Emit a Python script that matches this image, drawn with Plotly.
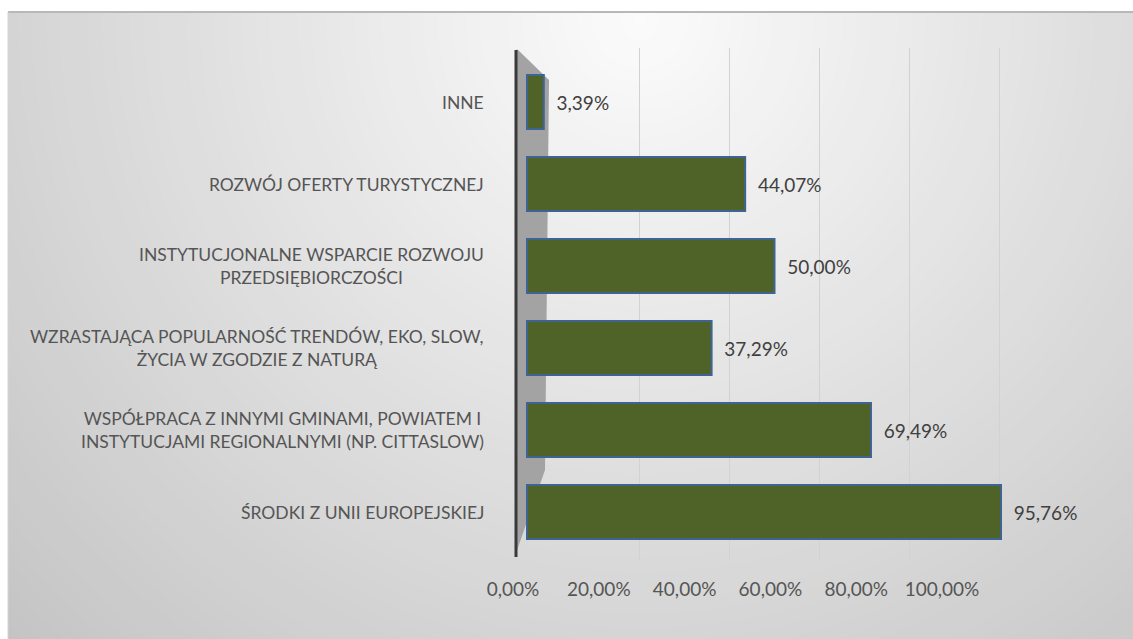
import plotly.graph_objects as go

# ---- data (top to bottom as in the reference) ----
categories = [
    "INNE",
    "ROZWÓJ OFERTY TURYSTYCZNEJ",
    "INSTYTUCJONALNE WSPARCIE ROZWOJU<br>PRZEDSIĘBIORCZOŚCI",
    "WZRASTAJĄCA POPULARNOŚĆ TRENDÓW, EKO, SLOW,<br>ŻYCIA W ZGODZIE Z NATURĄ",
    "WSPÓŁPRACA Z INNYMI GMINAMI, POWIATEM I<br>INSTYTUCJAMI REGIONALNYMI (NP. CITTASLOW)",
    "ŚRODKI Z UNII EUROPEJSKIEJ",
]
values = [0.0339, 0.4407, 0.5000, 0.3729, 0.6949, 0.9576]
tick_values = [0, 0.2, 0.4, 0.6, 0.8, 1.0]

# ---- layout geometry ----
W, H = 1133, 639
ML, MR, MT, MB = 500, 73, 48, 78
PW, PH = W - ML - MR, H - MT - MB


def pxx(px):
    return (px - ML) / PW


def pxy(py):
    return (H - MB - py) / PH


FONT = "Lato, 'Open Sans', sans-serif"
TXT = "#555555"
ypos = list(range(len(categories)))

fig = go.Figure()
fig.add_trace(go.Bar(
    y=ypos,
    x=values,
    orientation="h",
    width=0.66,
    marker=dict(color="#4f6228", line=dict(color="#3f6491", width=2)),
    texttemplate="\u00a0\u00a0%{x:.2%}",
    textposition="outside",
    cliponaxis=False,
    textfont=dict(family=FONT, size=19, color="#404040"),
    hoverinfo="skip",
    showlegend=False,
))
# invisible helpers so the tick-label axis and the back-wall grid axis are drawn
for ax in ("x2", "x3"):
    fig.add_trace(go.Scatter(x=values, y=ypos, xaxis=ax, yaxis="y", mode="markers",
                             marker=dict(opacity=0, size=1), hoverinfo="skip",
                             showlegend=False))

# ---- background: radial grey gradient with white margin ----
shapes = []
cx, cy = 640, 20
r = 1000
while r > 0:
    c = int(max(196, 252 - 0.062 * r))
    col = f"rgb({c},{c},{c})"
    shapes.append(dict(type="circle", xref="paper", yref="paper",
                       x0=pxx(cx - r), x1=pxx(cx + r), y0=pxy(cy + r), y1=pxy(cy - r),
                       fillcolor=col, line=dict(width=0), layer="below"))
    r -= 14
shapes.append(dict(type="rect", xref="paper", yref="paper",
                   x0=pxx(-5), x1=pxx(W + 5), y0=pxy(12), y1=pxy(-5),
                   fillcolor="white", line=dict(width=0), layer="below"))
shapes.append(dict(type="rect", xref="paper", yref="paper",
                   x0=pxx(-5), x1=pxx(8), y0=pxy(H + 5), y1=pxy(-5),
                   fillcolor="white", line=dict(width=0), layer="below"))
shapes.append(dict(type="line", xref="paper", yref="paper",
                   x0=pxx(8), x1=pxx(W), y0=pxy(12), y1=pxy(12),
                   line=dict(color="#b8b8b8", width=2), layer="below"))
shapes.append(dict(type="line", xref="paper", yref="paper",
                   x0=pxx(8), x1=pxx(8), y0=pxy(12), y1=pxy(H),
                   line=dict(color="#d4d4d4", width=1), layer="below"))
# grey side wall
wall = [(517, 49), (549, 80), (545, 470), (515, 556)]
path = "M " + " L ".join(f"{pxx(a)},{pxy(b)}" for a, b in wall) + " Z"
shapes.append(dict(type="path", xref="paper", yref="paper", path=path,
                   fillcolor="#a3a3a3", line=dict(width=0), layer="between"))
# dark vertical axis line
shapes.append(dict(type="line", xref="paper", yref="paper",
                   x0=pxx(516), x1=pxx(516), y0=pxy(50), y1=pxy(557),
                   line=dict(color="#3a3a3a", width=3), layer="between"))

# category labels
annotations = []
for i, cat in enumerate(categories):
    annotations.append(dict(x=pxx(486), xref="paper", y=i, yref="y", text=cat,
                            xanchor="right", align="center", showarrow=False,
                            font=dict(family=FONT, size=17.5, color=TXT)))

fig.update_layout(
    width=W, height=H,
    margin=dict(l=ML, r=MR, t=MT, b=MB),
    paper_bgcolor="white",
    plot_bgcolor="rgba(0,0,0,0)",
    separators=",.",
    shapes=shapes,
    annotations=annotations,
    bargap=0.35,
    xaxis=dict(range=[(ML - 527) / 495, (W - MR - 527) / 495],
               showgrid=False, showticklabels=False, zeroline=False,
               showline=False, fixedrange=True),
    xaxis2=dict(overlaying="x", side="bottom", anchor="y",
                range=[(ML - 513) / 429, (W - MR - 513) / 429],
                tickvals=tick_values, tickformat=".2%",
                showgrid=False, zeroline=False, showline=False,
                ticks="outside", ticklen=11, tickcolor="rgba(0,0,0,0)",
                tickfont=dict(family=FONT, size=19, color=TXT)),
    xaxis3=dict(overlaying="x", side="top", anchor="y",
                range=[(ML - 550) / 449.5, (W - MR - 550) / 449.5],
                tickvals=tick_values[1:], showticklabels=False,
                showgrid=True, gridcolor="#d2d2d2", gridwidth=1,
                zeroline=False, showline=False),
    yaxis=dict(range=[(H - MB - 102) / 82, (MT - 102) / 82],
               showticklabels=False, showgrid=False, zeroline=False,
               showline=False, fixedrange=True),
)

fig.write_html("out.html", config={"displayModeBar": False},
               post_script="document.body.style.margin='0';")
